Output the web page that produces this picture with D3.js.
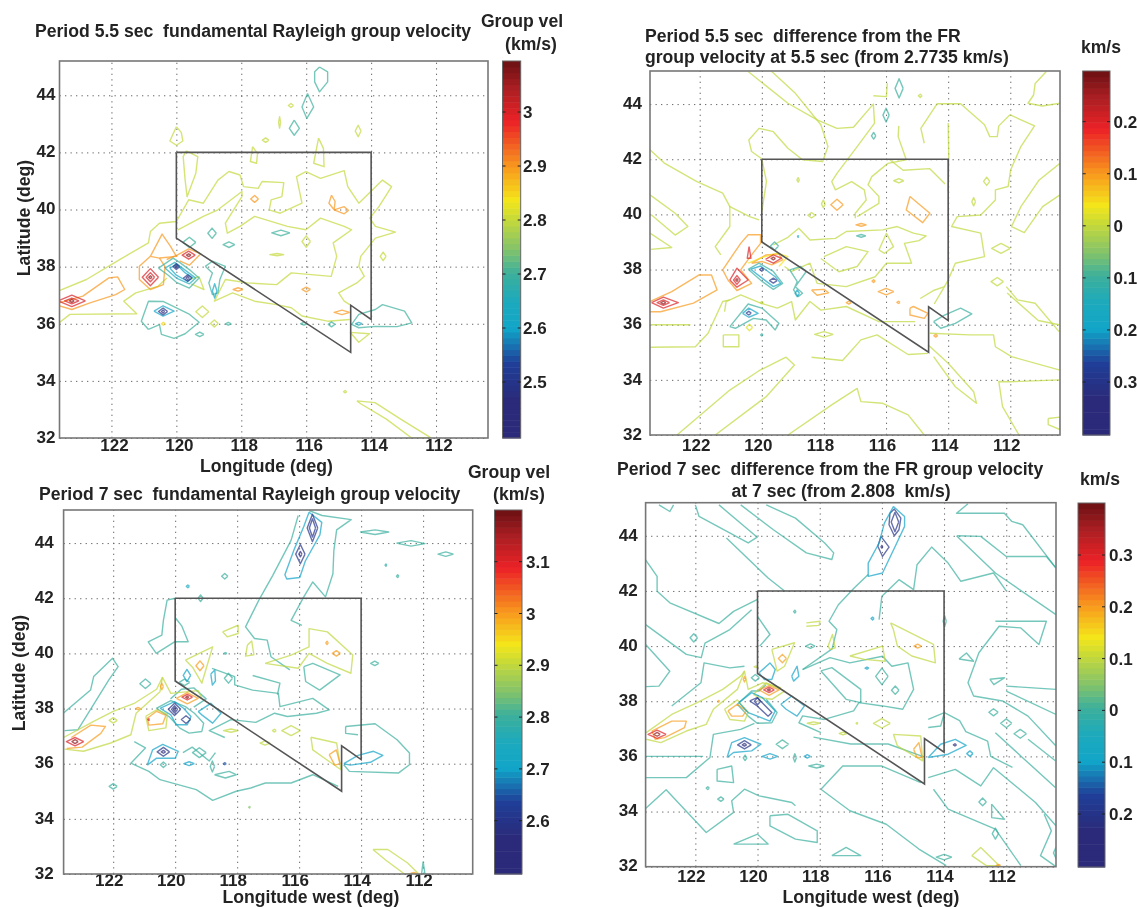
<!DOCTYPE html>
<html>
<head>
<meta charset="utf-8">
<script src="https://cdnjs.cloudflare.com/ajax/libs/d3/7.8.5/d3.min.js"></script>
<style>
html, body { margin: 0; padding: 0; background: #fff; overflow: hidden; }
svg { display: block; filter: blur(0.6px); }
text { font-family: "Liberation Sans", Arial, sans-serif; font-weight: bold; fill: #232323; white-space: pre; }
</style>
</head>
<body>
<svg width="1137" height="907"></svg>
<script>
// ticks (all four maps share them)
var lonTicks = [122, 120, 118, 116, 114, 112];
var latTicks = [44, 42, 40, 38, 36, 34, 32];
var lonRange = [123.6, 110.4];
var latRange = [32, 45.2];

// Nevada outline, lon and lat
var stateLon = [120, 114, 114, 114.63, 114.63, 120, 120];
var stateLat = [42, 42, 36.15, 36.65, 35, 39, 42];

// colour bar stops, fraction from bottom of the bar and colour
var barFrac = [0, 0.1, 0.2, 0.29, 0.36, 0.44, 0.5, 0.58, 0.63, 0.72, 0.84, 0.93, 1];
var barCols = ["#2b2a7a", "#2b2a7a", "#1f3f98", "#12a5c8", "#1ba9bd", "#3fb09a", "#82c36b", "#c6d93a", "#f4e61a", "#f8981d", "#ec2227", "#a81e22", "#6b1013"];

var velTicks55 = [3, 2.9, 2.8, 2.7, 2.6, 2.5];
var velTicks7 = [3.1, 3, 2.9, 2.8, 2.7, 2.6];
var diffTicks55 = [0.2, 0.1, 0, -0.1, -0.2, -0.3];
var diffTicks7 = [0.3, 0.2, 0.1, 0, -0.1, -0.2];

// contours: [level, lon, lat, lon, lat, ...]
var vel55Lines = [
  [2.8, 123.64,37.14, 122.77,37.55, 121.76,38.24, 120.86,38.83, 120.8,39.23, 120.52,39.52, 120,39.58, 119.62,40.34, 119.17,40.22, 118.72,41.03, 118.38,41.33, 118.04,41.21, 117.93,40.8, 117.48,40.74, 117.36,40.98, 116.69,40.94, 116.75,40.45, 117.08,40.34, 117.14,39.99, 116.8,39.87, 116.13,40.22, 116.3,41.15, 116.01,41.33, 115.56,41.09, 114.83,41.36, 114.72,40.8, 114.38,40.22, 113.65,41.03, 113.37,40.8, 113.76,40.1, 114.04,39.7, 113.87,39.41, 113.25,39.21, 113.87,39, 114.32,38.36, 114.38,38.01, 114.21,37.66, 114.44,37.43, 115,37.08, 114.83,36.79, 114.66,36.67],
  [2.8, 123.64,36.01, 123.28,36.33, 121.22,36.35, 121.62,36.79, 121.25,37.08, 120.57,37.31, 120.29,37.6],
  [2.8, 119.95,39.29, 119.17,39.76, 118.72,39.99, 117.98,40.63, 117.98,40.45, 118.49,39.52, 118.43,39.17, 118.04,39.41, 117.59,39.76, 116.58,39.41, 116.01,39.29, 115.56,39.7, 114.83,39.41, 114.6,39.29, 115.17,38.83, 115.06,38.36, 115.23,37.66, 116.46,37.78, 116.91,37.37, 117.82,37.43, 118.49,37.55, 118.83,36.79, 118.27,37.08, 117.59,36.79, 116.91,36.67, 116.46,36.56, 116.13,36.27, 115.34,36.09, 114.66,36.15],
  [2.8, 120,42.9, 120.2,42.4, 120,42.25, 119.8,42.4, 119.85,42.7, 120,42.9],
  [2.8, 119.7,42.05, 119.34,41.85, 119.4,41.27, 119.67,40.45, 119.73,41.03, 119.79,41.85, 119.7,42.05],
  [2.8, 115.62,42.5, 115.77,41.62, 115.45,41.5, 115.47,42.14, 115.62,42.5],
  [2.8, 117.65,42.2, 117.72,41.68, 117.53,41.62, 117.5,41.96, 117.65,42.2],
  [2.8, 114.65,35.7, 114.05,35.65, 114.38,35.35, 114.65,35.7],
  [2.8, 114.44,33.3, 113.88,33.24, 113.09,32.66, 112.18,32.02, 112.75,32, 113.53,32.66, 114.32,33.2, 114.44,33.3],
  [2.8, 119.6,37.55, 119.3,37.65, 119.15,37.2, 119.55,37.4],
  [2.9, 123.64,36.73, 122.88,36.97, 122.09,37.6, 121.81,37.64, 121.59,37.2, 121.87,37.02, 122.66,36.73, 123.22,36.5, 123.64,36.64],
  [2.9, 120.8,38.36, 120.44,39.14, 120.18,38.71, 120,38.36, 120.52,38.3, 120.8,38.36],
  [2.9, 120.8,38.36, 121.14,38.01, 121.14,37.55, 120.8,37.2, 120.4,37.37, 120.35,38, 120.52,38.3],
  [2.9, 120.3,38.25, 119.95,38.42, 119.62,38.62, 119.25,38.45, 119.6,38.05, 119.9,38.2],
  [2.9, 115.22,40.5, 115.11,40.28, 115.14,39.99, 115.3,40.22, 115.22,40.5],
  [2.9, 115.14,39.99, 114.83,40.1, 114.7,39.97, 114.83,39.85, 115.14,39.99],
  [2.7, 120.55,37.95, 120.1,38.3, 119.9,38.15, 119.55,37.85, 119.3,37.6, 119.6,37.25, 120,37.45, 120.25,37.7, 120.55,37.95],
  [2.7, 120.86,35.8, 121.08,36.09, 120.86,36.79, 120.41,36.78, 119.62,36.35, 119.3,36.05, 119.73,35.65, 120.07,35.49, 120.46,35.63, 120.52,35.97, 120.86,35.8],
  [2.7, 119.11,38.01, 118.89,38.19, 118.49,38.01, 118.66,37.55, 118.72,37.08, 118.89,37.02, 119,37.43, 118.89,37.78, 119.11,38.01],
  [2.7, 115.59,44.99, 115.34,44.82, 115.34,44.47, 115.59,44.12, 115.74,44.47, 115.74,44.82, 115.59,44.99],
  [2.7, 115.96,44.06, 115.77,43.59, 115.98,43.19, 116.13,43.59, 115.96,44.06],
  [2.7, 116.37,43.13, 116.21,42.84, 116.37,42.6, 116.52,42.84, 116.37,43.13],
  [2.7, 114.6,35.98, 114.38,36.33, 113.87,36.5, 113.65,36.67, 112.97,36.44, 112.75,36.03, 113.2,35.9, 113.87,35.91, 114.38,35.86, 114.6,35.98],
  [2.65, 120.35,37.95, 120.05,38.15, 119.7,37.85, 119.4,37.6, 119.6,37.4, 120,37.6, 120.35,37.95],
  [2.6, 120.2,37.95, 120,38.08, 119.75,37.8, 119.5,37.62, 119.65,37.48, 120,37.7, 120.2,37.95],
  [2.6, 120.69,36.44, 120.41,36.63, 120.07,36.44, 120.41,36.27, 120.69,36.44]
];
// small closed spots: [level, lon, lat, half width, half height]
var vel55Spots = [
  [2.8,117.25,42.43,0.1,0.08], [2.8,116.82,43.05,0.03,0.2], [2.8,116.47,43.64,0.08,0.07], [2.8,114.4,42.75,0.09,0.2], [2.8,113.63,38.36,0.09,0.15],
  [2.8,116,38.88,0.13,0.2], [2.8,116.9,38.42,0.22,0.04], [2.8,119.2,36.42,0.2,0.2], [2.8,118.83,36.01,0.12,0.12], [2.8,114.8,33.62,0.05,0.04], [2.85,120.4,36,0.06,0.05],
  [2.7,118.9,39.17,0.13,0.18], [2.7,119.6,38.85,0.2,0.18], [2.7,118.38,38.77,0.18,0.1], [2.7,116.78,39.18,0.28,0.1], [2.7,119.28,35.63,0.13,0.08],
  [2.7,118.4,36,0.09,0.05], [2.7,116.07,36,0.1,0.05], [2.7,115.22,35.98,0.1,0.09], [2.65,114.38,36,0.1,0.05], [2.6,118.82,37.15,0.07,0.25],
  [2.9,117.59,40.37,0.12,0.12], [2.9,118.1,37.2,0.15,0.06], [2.9,116,37.2,0.13,0.08], [2.9,114.9,36.4,0.24,0.08],
  [3,123.22,36.8,0.42,0.2], [3,123.22,36.8,0.22,0.1], [3.07,123.22,36.8,0.07,0.05],
  [3,120.8,37.63,0.25,0.3], [3,120.8,37.63,0.13,0.16], [3.07,120.8,37.63,0.05,0.05],
  [3,119.62,38.4,0.2,0.14], [3.07,119.62,38.4,0.07,0.05],
  [2.5,120,38,0.1,0.1], [2.42,120,38,0.04,0.04], [2.5,119.65,37.6,0.13,0.11], [2.42,119.65,37.6,0.05,0.05], [2.5,120.41,36.43,0.14,0.12], [2.42,120.41,36.43,0.05,0.05]
];

var diff55Lines = [
  [0, 120.44,45.18, 119.16,44.03, 118.22,43.43, 117.58,43.12, 117.05,43.16, 116.41,44, 116.37,43.31, 116.93,42.46, 117.58,41.49, 117.75,41.19, 117.63,40.89, 117.11,41.19, 116.7,40.89, 116.64,40.52, 116.99,40.04, 116.99,39.86],
  [0, 119.68,45.18, 118.92,44.39, 118.1,43.25, 117.87,42.46, 118.04,41.92, 118.69,41.98, 119.16,42.4, 119.63,43, 120.09,43.12, 120.42,42.7, 120.33,42.28, 119.98,42],
  [0, 120,42, 119.85,41.2, 120,40.1],
  [0, 115.96,44.76, 115.99,44.27, 116.41,44.3],
  [0, 114.77,42.58, 114.88,43.12, 114.36,44.01, 113.6,44.01, 112.83,43.25, 112.66,42.82, 112.42,42.82, 112.37,43.21, 112.01,43.61, 111.22,43.21, 111.66,42.46, 111.99,41.61, 112.07,41.01, 112.48,40.89, 112.48,40.52, 112.95,39.98, 113.71,39.92, 113.89,39.56, 112.95,39.32, 112.83,38.47, 113.77,38.23, 114,37.62, 114.12,37.38],
  [0, 110.84,45.18, 111.2,44.75, 111.25,44.33, 111.43,44.03, 110.97,43.93, 110.4,44.03],
  [0, 110.4,41.85, 111.07,41.25, 111.66,40.28, 111.96,39.56, 111.55,39.34, 110.96,40.28, 110.4,40.71],
  [0, 114,43.31, 113.98,41.98, 114,40.83],
  [0, 115.59,43.21, 115.61,42.82, 115.35,41.98, 115.94,41.85, 116.46,41.37, 116.58,41.07, 116.23,40.65, 116.23,40.4, 116.93,39.92],
  [0, 115.9,42, 115.45,41.6, 114.6,41.66, 114.1,41.1],
  [0, 119.63,38.89, 119.16,39.17, 118.81,39.5, 118.45,39.07, 117.63,39.13, 117.28,39.38, 116.11,39.44, 115.64,39.56, 115.12,39.32, 114.71,39.22, 114.94,39.05, 115.41,38.95, 115.18,38.23, 115.99,38.23, 116.35,37.74, 117.28,37.38, 118.22,37.5, 118.45,38.23, 119.04,37.93, 119.27,38.11],
  [0, 118,38.47, 117.28,38.83, 116.58,38.65, 116.93,38.11, 117.52,37.92, 118.1,38.4],
  [0, 116.23,38.71, 115.99,39.31, 115.76,38.83, 116.05,38.59, 116.23,38.71],
  [0, 123.6,42.34, 123.14,41.86, 122.09,41.19, 121.26,40.77, 121.03,40.28, 120.39,39.92, 120.09,39.8],
  [0, 123.6,40.71, 122.79,40.04, 122.38,39.56, 122.79,39.25, 123.55,39.98],
  [0, 123.6,39.32, 122.9,38.8, 123.58,38.73],
  [0, 121.03,40.31, 121.03,39.56, 121.5,38.83, 121.32,38.53],
  [0, 123.6,36, 122.3,36],
  [0, 123.6,35.18, 122.14,35.2, 121.73,35.69, 121.26,36.84, 121.03,36.9],
  [0, 121.24,35.63, 120.74,35.63, 120.74,35.2, 121.24,35.2, 121.24,35.63],
  [0, 122.73,32, 121.03,33.63, 120.09,34.33, 119.22,34.82, 118.95,34.54, 119.86,33.39, 121.5,32],
  [0, 119.16,32, 117.75,33.09, 116.93,33.69, 116.81,33.21, 116.11,33.15, 115.29,32.73, 114.77,32],
  [0, 118.4,34.82, 117.4,34.7, 116.81,35.45, 116.29,35.63, 115.29,34.92, 114.65,34.96],
  [0, 114.65,35.27, 114,34.6, 113.18,33.57, 113.09,33.15, 113.77,33.75, 114.47,34.84],
  [0, 114.59,35.69, 113.3,35.63, 112.54,35.63, 112.48,35.2, 111.96,34.84, 110.43,34.36],
  [0, 110.43,34, 112.01,33.93, 112.37,33.94, 112.25,33.03, 111.72,32],
  [0, 110.78,32.6, 110.4,32.65, 110.4,32.2, 110.78,32.38, 110.78,32.6],
  [0, 112.13,37.38, 111.77,36.9, 111.2,36.78, 110.43,35.75],
  [0, 112.1,37.15, 111.1,36.15, 110.43,36],
  [0, 121.2,36.47, 121.15,36.84, 120.68,37.08, 120.04,36.78, 119.5,36.6, 119.04,36.84, 118.92,36.17, 118.45,36.84, 118.1,36.53, 117.28,36.66, 116.23,36.11, 115.06,36.11],
  [0, 114.9,36.95, 114.45,37.25, 114.12,37.38, 114.45,36.75],
  [0.1, 123.6,36.84, 122.9,37.2, 122.03,37.8, 121.62,37.8, 121.44,37.26, 122.2,36.78, 123.26,36.47, 123.6,36.47],
  [0.1, 121.26,37.99, 120.68,38.95, 120.44,39.26, 120.04,39.26, 120.04,38.95, 120.33,38.53, 120.68,37.99, 120.33,37.5, 120.8,37.24, 121.09,37.62, 121.26,37.99],
  [0.1, 120.33,38.23, 119.86,38.53, 119.45,38.57, 119.33,38.35, 119.68,38.17, 119.98,38.29, 120.33,38.23],
  [0.1, 115.23,40.65, 114.59,40.04, 114.82,39.7, 115.35,40.16, 115.23,40.65],
  [0.1, 118.4,37.26, 118,37.28, 117.85,37.16, 118.22,37.07, 118.4,37.26],
  [0.1, 115.23,36.6, 115.12,36.66, 114.65,36.41, 114.77,36.23, 115.23,36.35, 115.23,36.6],
  [0.04, 120.44,38.23, 119.98,38.44, 119.5,38.59, 119.16,38.47, 119.45,38.11],
  [0.2, 123.55,36.8, 123.17,37, 122.69,36.8, 123.17,36.6, 123.55,36.8],
  [0.2, 121.03,37.62, 120.8,38.05, 120.44,37.62, 120.8,37.36, 121.03,37.62],
  [0.2, 120.41,38.83, 120.35,38.41, 120.47,38.41, 120.41,38.83],
  [0.2, 119.88,38.37, 119.63,38.53, 119.37,38.41, 119.63,38.23, 119.88,38.37],
  [-0.1, 120.44,38.01, 120.09,38.23, 119.63,37.93, 119.33,37.5, 119.63,37.28, 119.98,37.56, 120.44,38.01],
  [-0.1, 121.03,35.93, 120.44,36.75, 119.98,36.59, 119.45,36.05, 119.57,35.81, 119.86,36.17, 120.27,36.23, 120.85,35.87, 121.03,35.93],
  [-0.1, 119.1,37.99, 118.75,38.11, 118.57,37.93, 118.92,37.38, 118.69,37.14, 118.83,37.02, 118.98,37.26, 118.86,37.56, 119.1,37.99],
  [-0.1, 114.47,36.11, 114.12,36.35, 113.6,36.6, 113.24,36.39, 113.77,36.05, 114.24,35.87, 114.47,36.11],
  [-0.2, 120.36,38.01, 120.04,38.13, 119.57,37.74, 119.39,37.5, 119.63,37.38, 119.98,37.68, 120.36,38.01],
  [-0.2, 120.62,36.41, 120.42,36.6, 120.12,36.41, 120.42,36.27, 120.62,36.41]
];
var diff55Spots = [
  [0,115.59,41.22,0.16,0.08], [0,112.76,41.2,0.1,0.15], [0,113.18,40.46,0.06,0.15], [0,118.4,39.97,0.12,0.1], [0,118.83,41.25,0.04,0.08], [0,118.02,40.38,0.06,0.14],
  [0,112.3,38.77,0.3,0.18], [0,112.42,37.56,0.2,0.15], [0,118,35.65,0.3,0.1], [0,114.9,44.3,0.06,0.06],
  [0,120,36.8,0.05,0.04], [0.02,120.4,35.9,0.1,0.12],
  [-0.1,119.59,38.85,0.13,0.15], [-0.1,116,43.6,0.1,0.25], [-0.1,115.58,44.57,0.13,0.35], [-0.1,116.4,42.85,0.07,0.12], [-0.1,116.8,39.22,0.15,0.05],
  [-0.1,120,35.63,0.04,0.04], [-0.15,118.83,39.2,0.02,0.03], [-0.2,118.86,37.14,0.07,0.12],
  [0.1,117.58,40.35,0.2,0.2], [0.1,116.8,39.62,0.17,0.05], [0.1,116,37.2,0.25,0.12], [0.1,116.4,37.58,0.05,0.05], [0.1,115.6,36.81,0.05,0.04], [0.1,114.4,35.6,0.06,0.05], [0.1,117.2,36.8,0.08,0.05],
  [0.2,123.17,36.8,0.2,0.1], [0.27,123.17,36.8,0.08,0.05], [0.2,120.8,37.62,0.11,0.16], [0.27,120.8,37.62,0.04,0.05], [0.27,119.63,38.4,0.07,0.05],
  [-0.3,120,38,0.07,0.06], [-0.3,119.63,37.6,0.12,0.09], [-0.3,120.42,36.42,0.08,0.07]
];

var vel7Lines = [
  [2.8, 123.61,37.83, 122.73,38.67, 122.63,39.16, 122.02,39.82, 121.84,39.52, 122.14,39.04, 122.61,38.19, 123.14,37.23, 123.57,37.2],
  [2.8, 115.68,45.18, 115.26,45, 114.32,44.85, 114.79,44.48, 114.88,43.73, 114.91,42.89, 115.15,42.05, 115.56,42.59, 115.85,42.05, 116.26,41.2, 115.91,41.02],
  [2.8, 116.03,45, 116.26,44.1, 116.85,42.83, 117.3,41.93, 117.73,40.96, 117.44,40.54, 117.03,40.48, 116.91,39.88, 116.3,39.4],
  [2.8, 120,42, 120.26,41.93, 120.38,41.2, 120.43,40.66, 120.87,40.42, 120.61,40, 120.02,40.42, 119.58,40.42, 119.79,41, 120,41.3],
  [2.8, 118.81,39.46, 118.08,39.16, 118.08,38.86, 117.5,38.67, 116.67,38.55, 116.62,38.07, 115.56,38.37, 115.03,37.95, 115.44,37.83, 116.38,37.71, 116.79,37.83, 117.4,37.5, 118.2,37.6, 118.9,37.2, 118.4,36.95],
  [2.8, 115.85,39.52, 115.56,39.64, 114.68,39.22, 115.34,38.67, 115.79,38.98, 115.85,39.52],
  [2.8, 117.5,39.2, 116.62,38.92, 116.7,38.5],
  [2.8, 121.32,36.8, 120.96,36.57, 121.43,36.02, 120.85,35.72, 120.49,35.42, 119.32,35.06, 118.79,34.67, 118.03,35, 117.56,35.12, 117.09,35.3, 116.26,35.3, 115.56,35.6, 114.74,35.18],
  [2.8, 114.5,37.35, 113.55,37.45, 112.84,36.87, 112.44,36.39, 112.44,35.96, 112.8,35.66, 114.38,35.72, 114.56,35.96],
  [2.8, 114.5,37.35, 114.5,37.1, 114.1,37.05],
  [2.8, 114.03,44.4, 113.55,44.48, 113.11,44.4, 113.55,44.31, 114.03,44.4],
  [2.8, 112.86,44, 112.39,44.09, 111.94,43.98, 112.39,43.89, 112.86,44],
  [2.8, 118.73,35.6, 118.26,35.72, 118.03,35.6, 118.38,35.48, 118.73,35.6],
  [2.8, 120.61,38.01, 120.14,38.29, 119.67,38.07, 119.38,37.83, 119.08,37.47, 119.14,37.17, 119.55,37.11, 119.85,37.29, 120.2,37.71, 120.61,38.01],
  [2.8, 120.15,38.35, 119.8,38.7, 119.4,38.75, 119,38.35, 119.4,38.05],
  [2.8, 119.75,36.4, 119.45,36.6, 118.9,36.1, 118.7,36.4],
  [2.8, 112,32.45, 111.94,32, 112.05,32, 112,32.45],
  [2.9, 123.57,36.53, 122.96,36.45, 122.08,36.75, 121.43,37.05, 121.26,37.83, 120.49,38.61, 120.41,39.13, 120.14,38.55, 119.26,38.65, 119.14,38.37],
  [2.9, 123.6,36.95, 122.6,37.55, 122,37.9, 121.3,38.2, 120.6,38.7, 120.41,39.13],
  [2.9, 119.67,39.76, 118.79,40.24, 119.14,38.92, 119.44,39.5, 119.67,39.76],
  [2.9, 118.47,40.78, 117.97,41.02, 117.97,40.72, 118.32,40.6, 118.47,40.78],
  [2.9, 117.67,40.3, 117.53,40.45, 117.46,39.95, 117.73,39.9, 117.67,40.3],
  [2.9, 117.1,39.64, 116.26,39.94, 115.68,40.24, 115.68,40.9, 115.09,40.78, 114.27,39.94, 114.33,39.28, 115.09,39.64, 115.68,40, 116.03,39.46, 117.1,39.64],
  [2.9, 115.62,36.96, 114.79,36.75, 114.65,35.78, 115.03,36.08, 115.56,36.5, 115.62,36.96],
  [2.9, 120.95,37.72, 120.6,37.95, 120.25,37.8, 120.3,37.3, 120.85,37.2, 120.95,37.72],
  [2.9, 113.62,32.89, 113.14,32.89, 112.5,32.4, 112.14,32, 112.6,32, 113.2,32.5, 113.62,32.89],
  [3, 123.35,36.95, 122.72,37.4, 122.25,37.35, 122.4,37.1, 123,36.6, 123.5,36.55],
  [3, 120.9,37.65, 120.6,37.9, 120.3,37.75, 120.4,37.45, 120.85,37.4, 120.9,37.65],
  [3, 115.03,36.33, 114.8,36.5, 114.68,36, 114.85,35.95, 115.03,36.33],
  [3, 119.96,38.37, 119.61,38.58, 119.26,38.37, 119.61,38.17, 119.96,38.37],
  [2.7, 120.49,38.01, 120.02,38.25, 119.73,38.01, 119.49,37.71, 119.61,37.41, 119.96,37.41, 120.14,37.77, 120.49,38.01],
  [2.7, 119.26,37.89, 118.85,38.19, 118.52,37.83, 118.79,37.47, 119.14,37.77, 119.26,37.89],
  [2.7, 120.9,35.95, 120.73,36.5, 120.4,36.7, 119.9,36.45, 120,36.2, 120.6,36.2, 120.9,35.95],
  [2.7, 115.68,45.12, 115.27,44.75, 115.33,44.3, 115.8,43.35, 115.98,42.75, 116.4,42.7, 116.46,42.85, 116.15,43.8, 115.85,44.6, 115.68,45.12],
  [2.7, 114.56,36, 114.1,36.3, 113.6,36.45, 113.3,36.3, 113.7,36.05, 114.35,35.95, 114.56,36],
  [2.7, 118.85,39.25, 118.72,39.4, 118.7,39, 118.8,38.85, 118.85,39.25]
];
var vel7Spots = [
  [2.8,118.4,42.8,0.1,0.1], [2.8,119.18,42,0.08,0.12], [2.75,119.59,42.43,0.05,0.05], [2.78,113.2,43.2,0.03,0.04], [2.8,112.82,42.8,0.04,0.05],
  [2.8,118.38,40,0.05,0.03], [2.8,113.56,39.64,0.13,0.08], [2.8,122,35.18,0.13,0.1], [2.8,120.38,35.96,0.1,0.1], [2.8,119.22,36.4,0.22,0.18],
  [2.8,111.27,43.6,0.25,0.08], [2.8,120.96,38.9,0.18,0.17], [2.8,119.7,38.95,0.17,0.12], [2.8,118.28,39.1,0.13,0.18], [2.85,117.6,34.42,0.03,0.03],
  [2.9,116.26,37.2,0.3,0.18], [2.9,118.2,37.2,0.24,0.06], [2.9,117.1,36.75,0.16,0.08], [2.9,122,37.57,0.13,0.1], [2.9,116.8,37.2,0.06,0.05],
  [2.7,119.55,36,0.17,0.07], [2.7,119.62,39.2,0.12,0.22], [2.65,118.4,36,0.05,0.04], [2.8,118.8,35.9,0.07,0.2],
  [3,119.2,39.55,0.13,0.18], [3,120.43,38.8,0.05,0.12], [3,121.2,38,0.08,0.04], [3,115.1,40.38,0.04,0.06], [3,114.8,40,0.13,0.1], [3,112.3,32.03,0.09,0.03],
  [3.1,123.23,36.8,0.28,0.15], [3.17,123.23,36.8,0.1,0.07], [3.1,119.61,38.41,0.17,0.1], [3.17,119.61,38.41,0.05,0.04], [3.1,120.85,37.6,0.03,0.03],
  [2.6,120.02,37.97,0.2,0.22], [2.6,120.02,37.97,0.1,0.13], [2.52,120.02,37.97,0.04,0.06], [2.6,119.65,37.6,0.15,0.14], [2.6,120.38,36.43,0.2,0.16], [2.52,120.38,36.43,0.07,0.05],
  [2.6,115.57,44.55,0.17,0.5], [2.6,115.57,44.55,0.1,0.33], [2.6,115.96,43.6,0.15,0.35], [2.55,115.96,43.6,0.05,0.1]
];

var diff7Lines = [
  [0, 122,45.12, 121.88,44.7, 120.3,43.74, 120.01,43.95, 121.24,45.12],
  [0, 120.54,45.12, 119.49,44.22, 118.43,43.38, 117.61,43.14, 117.55,43.38, 117.84,43.74, 118.78,44.64, 119.72,45.12],
  [0, 121,43.92, 119.66,42.47, 119.13,42],
  [0, 123.17,45.12, 122.82,44.88, 122.7,45.12],
  [0, 123.6,43.13, 123.23,42.53, 123.23,41.99, 122.82,41.57, 121.24,40.82, 120.77,41.26, 120,41.69],
  [0, 123.6,40.78, 122.29,39.7, 121.81,39.58, 121.69,40.11, 120.89,40.6, 120.19,41.32],
  [0, 123.6,40.06, 122.82,39.09, 123.17,38.55, 123.6,38.53],
  [0, 122.76,37.83, 121.82,38.67, 121.72,39.39, 120.89,39.21, 120.42,39.27],
  [0, 120,41.08, 119.6,40.42, 119.93,40],
  [0, 116.09,40.96, 116,41.81, 115.45,42.41, 114.98,42.05, 114.87,42.95, 114.4,43.59, 113.87,43.01, 113.46,42.35, 112.41,42.65, 112,42],
  [0, 116.44,42.6, 116.9,42.1, 117.4,41.5, 117.7,40.9, 117.45,40.6, 117.6,39.9, 118.55,39.15],
  [0, 113.23,45.16, 113.6,44.82, 112.06,44.82, 111.82,44.52, 111.47,44.4, 110.4,42.83],
  [0, 113.58,44, 112.82,43.98, 112,43.25, 110.71,43.25, 110.4,42.83],
  [0, 113.6,44, 112.35,42.65, 110.4,41.14],
  [0, 112.35,40.9, 110.71,40.9, 110.95,40.06, 111.53,40.66, 112.23,40.72, 112.88,39.76, 113.23,38.67, 113.05,38.19, 112.12,38.01, 111.3,37.46, 110.4,36.38],
  [0, 112,38.55, 110.4,38.43],
  [0, 112,38.37, 110.4,37.52],
  [0, 112.35,36.86, 111.42,35.9, 110.42,34.87],
  [0, 111.3,36.62, 110.42,35.84],
  [0, 114.51,35.23, 113.64,35.53, 112.82,34.93, 112.41,35.59, 111.06,34.33, 110.4,33.48],
  [0, 117.96,34.81, 117.26,35.65, 116,35.65, 114.75,35.05],
  [0, 117.96,34.81, 117.03,34.03, 115.86,33.54, 114.81,32.64, 113.93,32.04],
  [0, 114.34,34.81, 113.87,34.09, 112.35,33.36, 111.53,32.04],
  [0, 112.47,34.27, 112.06,33.72, 112.47,33.78, 112.47,34.27],
  [0, 123.6,34.11, 122.94,34.79, 121.65,33.24, 120.77,33.97, 120.83,34.39, 120.42,34.81, 119.95,34.57, 118.9,34.33, 118.78,34.21],
  [0, 123.6,35.23, 122.29,35.23, 121.53,35.96, 121.42,36.8, 121.12,36.86, 120.54,36.98, 120.1,37.2],
  [0, 121.3,35.53, 120.83,35.65, 120.77,35.05, 121.3,35.11, 121.3,35.53],
  [0, 119.6,33.85, 119.02,33.9, 118.08,33.3, 118.08,32.88, 118.78,33, 119.6,33.48, 119.6,33.85],
  [0, 120.77,32.82, 120,33.18, 119.66,32.82, 120.77,32.82],
  [0, 117.61,32.4, 117.15,32.7, 116.68,32.4, 117.61,32.4],
  [0, 123.6,36, 121.75,36],
  [0, 117.96,39.1, 117.61,39.22, 116.68,38.43, 116.68,37.95, 117.15,38.07, 117.96,39.1],
  [0, 118.55,39.15, 117.67,39.58, 117.03,39.39, 115.98,39.63, 115.68,39.27, 115.16,39.39, 114.98,38.43, 115.33,37.71, 115.98,37.83, 116.74,37.95, 116.91,37.65, 117.85,37.34, 118.55,37.47, 118.67,37.22, 117.96,36.86],
  [0, 118.2,36.7, 117,36.45, 115.8,36.45, 114.65,35.98],
  [0, 114.51,37.34, 113.99,37.59, 114.11,37.1, 114.51,37.05],
  [0, 113.99,37.59, 113.5,37.3, 113.3,36.9, 112.6,36.55, 112.5,36, 111.8,35.6],
  [0, 113.52,39.53, 113.28,39.75, 113.05,39.45, 113.52,39.53],
  [0, 112.53,38.8, 112.06,38.85, 112.4,38.6, 112.53,38.8],
  [0, 119.73,38.6, 119.95,38.37, 120.19,38.37, 120.65,37.89, 120.3,37.46, 120.01,37.2, 119.54,37.22, 119.37,37.59, 119.72,38.07],
  [0, 110.78,33.9, 110.55,33.3, 110.9,32.4, 110.4,32],
  [0.1, 123.58,36.62, 123.11,36.5, 122.29,36.92, 121.65,37.16, 121.42,37.71, 120.65,38.43, 120.42,39.09, 120.3,38.43, 119.84,38.67, 119.25,38.49],
  [0.1, 123.58,36.86, 122.76,37.52, 121.94,37.95, 121.12,38.43, 120.54,38.91, 120.42,39.09],
  [0.1, 121.06,37.71, 120.65,38.05, 120.3,37.59, 120.42,37.28, 120.89,37.34, 121.06,37.71],
  [0.1, 120.13,38.25, 119.72,38.67, 119.13,38.37, 119.54,38.07, 119.95,38.13, 120.13,38.25],
  [0.1, 119.54,39.88, 118.81,40.12, 119.13,39.27, 119.37,39.09, 119.54,39.88],
  [0.1, 118.43,40.84, 117.99,40.9, 118.02,40.75, 118.43,40.72],
  [0.1, 117.73,40, 117.59,40.42, 117.5,39.94, 117.67,39.88, 117.73,40],
  [0.1, 117.03,39.64, 115.98,40, 115.89,39.45, 116.56,39.52, 117.03,39.64],
  [0.1, 115.72,40.84, 114.34,40.06, 114.28,39.39, 115.04,39.64, 115.5,40, 115.63,40.6, 115.72,40.84],
  [0.1, 115.63,36.8, 114.75,36.74, 114.69,35.84, 115.5,36.38, 115.63,36.8],
  [0.1, 113.11,32.4, 112.82,32.7, 112.23,32.04, 112.64,32.04, 113.11,32.4],
  [0.2, 123.4,36.92, 122.76,37.28, 122.29,37.28, 122.35,37.04, 122.99,36.68, 123.29,36.62, 123.4,36.92],
  [0.2, 120.95,37.65, 120.65,37.89, 120.36,37.65, 120.48,37.46, 120.83,37.46, 120.95,37.65],
  [0.2, 119.95,38.41, 119.63,38.57, 119.31,38.41, 119.63,38.21, 119.95,38.41],
  [0.2, 114.98,36.26, 114.81,36.5, 114.71,35.96, 114.87,35.96, 114.98,36.26],
  [-0.2, 120.25,38.01, 120.01,38.13, 119.54,37.59, 119.66,37.46, 120.01,37.83, 120.25,38.01],
  [-0.2, 115.74,44.82, 115.6,44.97, 115.39,44.64, 115.45,44.22, 115.6,44, 115.77,44.4, 115.74,44.82],
  [-0.2, 116.03,43.98, 116.13,43.62, 115.98,43.25, 115.77,43.59, 116.03,43.98],
  [-0.1, 120.6,37.95, 120.19,38.31, 119.84,38.13, 119.43,37.65, 119.6,37.28, 120.3,37.59, 120.6,37.95],
  [-0.1, 119.25,37.89, 118.9,38.19, 118.49,37.83, 118.73,37.46, 119.08,37.71, 119.25,37.89],
  [-0.1, 118.9,38.91, 118.73,39.27, 118.67,38.91, 118.84,38.73, 118.9,38.91],
  [-0.1, 119.95,39.03, 119.6,39.39, 119.43,39.15, 119.54,38.79, 119.78,38.79, 119.95,39.03],
  [-0.1, 120.98,35.96, 120.83,36.5, 120.42,36.68, 119.89,36.44, 120.19,36.2, 120.77,36.14, 120.98,35.96],
  [-0.1, 115.63,45.06, 115.27,44.7, 115.27,44.34, 115.57,43.62, 115.98,42.65, 116.44,42.53, 116.44,43.01, 116.09,43.74, 115.92,44.46, 115.63,45.06],
  [-0.1, 114.51,35.96, 114.11,36.44, 113.64,36.62, 113.29,36.4, 113.87,36.08, 114.51,35.96]
];
var diff7Spots = [
  [0,122.05,40.3,0.12,0.15], [0,116,38.9,0.2,0.3], [0,115.57,38.4,0.12,0.15], [0,118.3,40,0.15,0.08], [0,112.41,37.6,0.15,0.13], [0,112,37.2,0.18,0.16], [0,111.55,36.82,0.2,0.16],
  [0,112.76,34.35,0.12,0.14], [0,112.35,33.2,0.1,0.2], [0,119.2,36.44,0.2,0.16], [0,118.8,35.95,0.05,0.15], [0,118.8,41.25,0.04,0.05], [0,121.6,34.85,0.05,0.05], [0,121.18,34.45,0.1,0.08],
  [0,120.07,38.85,0.13,0.12], [0,113.98,40.9,0.05,0.2], [0,118.1,35.65,0.25,0.07], [0,114,32.35,0.25,0.1], [0,110.4,32.5,0.08,0.2], [0,120.4,35.95,0.06,0.1],
  [0.1,116,37.2,0.27,0.17], [0.1,118.2,37.2,0.2,0.05], [0.1,117.25,36.83,0.12,0.05], [0.1,120.05,39.25,0.06,0.03], [0.1,116.8,37.2,0.03,0.03],
  [0.2,119.2,39.55,0.13,0.15], [0.2,114.85,40,0.12,0.07], [0.2,120.42,38.8,0.04,0.1], [0.2,112.25,32.05,0.07,0.03], [0.2,121.25,38,0.03,0.03],
  [0.3,123.23,36.8,0.29,0.15], [0.37,123.23,36.8,0.1,0.07], [0.3,119.63,38.41,0.17,0.1], [0.37,119.63,38.41,0.05,0.04],
  [-0.2,120.42,36.42,0.22,0.15], [-0.27,120.42,36.42,0.07,0.05], [-0.2,120,38,0.1,0.13], [-0.2,115.58,44.5,0.12,0.35], [-0.27,116,43.6,0.03,0.05], [-0.25,113.65,36.42,0.05,0.04],
  [-0.1,119.6,36,0.25,0.1], [-0.1,113.17,36.1,0.1,0.1], [-0.1,116.48,39.2,0.06,0.04], [-0.1,116.3,41,0.05,0.05], [-0.1,118.4,36,0.1,0.06]
];

// layout of the four maps
var panels = [
  {box: [59.5, 488, 61, 438], bar: [502.5, 520.7, 61, 438], barAt: [3, 112, 2.5, 382], ticks: velTicks55, lines: vel55Lines, spots: vel55Spots, xShift: 2.5, xPad: 1, yPad: 4, labelX: 523,
   texts: [["Period 5.5 sec  fundamental Rayleigh group velocity", 35, 37, "start"], ["Group vel", 522, 27, "middle"], ["(km/s)", 531, 50, "middle"], ["Longitude (deg)", 266.5, 472, "middle"]], yLabel: [24, 218, "Latitude (deg)"]},
  {box: [650, 1060, 71, 435], bar: [1082.7, 1110, 71, 435], barAt: [0.2, 121.7, -0.3, 382], ticks: diffTicks55, lines: diff55Lines, spots: diff55Spots, xShift: -4, xPad: 4, yPad: 8, labelX: 1113.5,
   texts: [["Period 5.5 sec  difference from the FR", 645, 42, "start"], ["group velocity at 5.5 sec (from 2.7735 km/s)", 645, 63, "start"], ["km/s", 1101, 53, "middle"]]},
  {box: [63.6, 472.7, 510, 874], bar: [494.5, 522, 510, 874], barAt: [3.1, 561.7, 2.6, 820.7], ticks: velTicks7, lines: vel7Lines, spots: vel7Spots, xShift: -4.5, xPad: 0, yPad: 10, labelX: 526,
   texts: [["Period 7 sec  fundamental Rayleigh group velocity", 39, 500, "start"], ["Group vel", 509, 478, "middle"], ["(km/s)", 519, 500, "middle"], ["Longitude west (deg)", 311, 902.5, "middle"]], yLabel: [19, 673, "Latitude (deg)"]},
  {box: [645.6, 1056, 502.7, 866.7], bar: [1078, 1105, 503, 867], barAt: [0.3, 555, -0.2, 814], ticks: diffTicks7, lines: diff7Lines, spots: diff7Spots, xShift: -4.5, xPad: 3, yPad: 8, labelX: 1109,
   texts: [["Period 7 sec  difference from the FR group velocity", 617, 475, "start"], ["at 7 sec (from 2.808  km/s)", 841, 497, "middle"], ["km/s", 1100, 485, "middle"], ["Longitude west (deg)", 871, 902.5, "middle"]]}
];

var svg = d3.select("svg");
var ramp = d3.scaleLinear().domain(barFrac).range(barCols);

panels.forEach(function(p, i) {
	var x = d3.scaleLinear().domain(lonRange).range([p.box[0], p.box[1]]);
	var y = d3.scaleLinear().domain(latRange).range([p.box[3], p.box[2]]);
	// value scale of the bar comes from two tick positions
	var barY = d3.scaleLinear().domain([p.barAt[0], p.barAt[2]]).range([p.barAt[1], p.barAt[3]]);
	var vTop = barY.invert(p.bar[2]), vBottom = barY.invert(p.bar[3]);
	var colorOf = function(v) { return ramp((v - vBottom) / (vTop - vBottom)); };

	var h = p.box[3] - p.box[2], w = p.box[1] - p.box[0];
	svg.append("clipPath").attr("id", "clip" + i).append("rect")
		.attr("x", p.box[0]).attr("y", p.box[2]).attr("width", w).attr("height", h);

	// grid comes from the axes, long dotted ticks
	var xAxis = svg.append("g").attr("transform", "translate(0," + p.box[3] + ")")
		.call(d3.axisBottom(x).tickValues(lonTicks).tickSize(-h).tickPadding(p.xPad).tickFormat(d3.format("d")));
	var yAxis = svg.append("g").attr("transform", "translate(" + p.box[0] + ",0)")
		.call(d3.axisLeft(y).tickValues(latTicks).tickSize(-w).tickPadding(p.yPad).tickFormat(d3.format("d")));
	[xAxis, yAxis].forEach(function(a) {
		a.select(".domain").remove();
		a.selectAll("line").attr("stroke", "#666").attr("stroke-width", 1).attr("stroke-dasharray", "1.3 4.2");
		a.selectAll("text").style("font-size", "17px").attr("fill", "#232323");
	});
	xAxis.selectAll("text").attr("dx", p.xShift);
	yAxis.selectAll("text").attr("dy", "0.25em");

	var lineGen = d3.line().x(function(d) { return x(d[0]); }).y(function(d) { return y(d[1]); });
	var contours = p.lines.map(function(c) {
		var pts = d3.range(1, c.length, 2).map(function(k) { return [c[k], c[k + 1]]; });
		return {level: c[0], pts: pts};
	});
	p.spots.forEach(function(s) {
		contours.push({level: s[0], pts: [[s[1] - s[3], s[2]], [s[1], s[2] + s[4]], [s[1] + s[3], s[2]], [s[1], s[2] - s[4]], [s[1] - s[3], s[2]]]});
	});

	svg.append("g").attr("clip-path", "url(#clip" + i + ")")
		.selectAll("path").data(contours).enter().append("path")
		.attr("d", function(d) { return lineGen(d.pts); })
		.attr("fill", "none")
		.attr("stroke", function(d) { return colorOf(d.level); })
		.attr("stroke-opacity", 0.7)
		.attr("stroke-width", 1.4)
		.attr("stroke-linejoin", "round");

	// Nevada
	var state = d3.zip(stateLon, stateLat);
	svg.append("path").attr("d", lineGen(state))
		.attr("fill", "none").attr("stroke", "#555").attr("stroke-width", 1.6);

	// frame
	svg.append("rect").attr("x", p.box[0]).attr("y", p.box[2]).attr("width", w).attr("height", h)
		.attr("fill", "none").attr("stroke", "#777").attr("stroke-width", 1.6);

	// colour bar, 64 flat bands like the matlab colormap
	var bands = d3.range(64);
	var bandY = d3.scaleBand().domain(bands).range([p.bar[3], p.bar[2]]);
	svg.append("g").selectAll("rect").data(bands).enter().append("rect")
		.attr("x", p.bar[0]).attr("width", p.bar[1] - p.bar[0])
		.attr("y", function(d) { return bandY(d); }).attr("height", bandY.bandwidth() + 0.5)
		.attr("fill", function(d) { return ramp((d + 0.5) / 64); });
	svg.append("rect").attr("x", p.bar[0]).attr("y", p.bar[2]).attr("width", p.bar[1] - p.bar[0]).attr("height", p.bar[3] - p.bar[2])
		.attr("fill", "none").attr("stroke", "#666").attr("stroke-width", 1);

	var barTicks = svg.append("g").selectAll("g").data(p.ticks).enter().append("g")
		.attr("transform", function(d) { return "translate(0," + barY(d) + ")"; });
	barTicks.append("line").attr("x1", p.bar[0]).attr("x2", p.bar[0] + 3).attr("stroke", "#222");
	barTicks.append("line").attr("x1", p.bar[1] - 3).attr("x2", p.bar[1]).attr("stroke", "#222");
	barTicks.append("text").attr("x", p.labelX).attr("y", 6).style("font-size", "17px")
		.text(function(d) { return Math.abs(d); });

	// titles and axis labels
	p.texts.forEach(function(t) {
		svg.append("text").attr("x", t[1]).attr("y", t[2]).attr("text-anchor", t[3]).style("font-size", "17.6px").text(t[0]);
	});
	if (p.yLabel) {
		svg.append("text").attr("transform", "translate(" + p.yLabel[0] + "," + p.yLabel[1] + ") rotate(-90)")
			.attr("text-anchor", "middle").attr("dy", "0.35em").style("font-size", "17.6px").text(p.yLabel[2]);
	}
});
</script>
</body>
</html>
